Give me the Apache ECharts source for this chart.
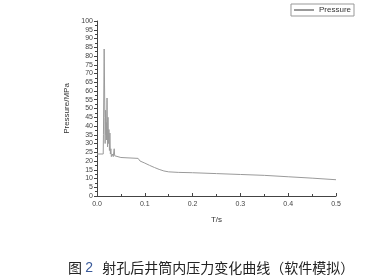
<!DOCTYPE html>
<html><head><meta charset="utf-8">
<script src="https://cdn.jsdelivr.net/npm/echarts@6/dist/echarts.min.js"></script>
<style>html,body{margin:0;padding:0;background:#fff}#c{width:388px;height:280px}</style>
</head><body><div id="c"></div>
<script>
var seriesName = 'Pressure';
var times = [0,0.013,0.0135,0.015,0.0165,0.017,0.018,0.019,0.0195,0.02,0.021,0.022,0.023,0.024,0.025,0.026,0.027,0.028,0.029,0.03,0.032,0.034,0.036,0.037,0.04,0.05,0.086,0.09,0.1,0.11,0.12,0.13,0.14,0.15,0.17,0.2,0.25,0.3,0.35,0.4,0.45,0.5];
var pressure = [24,24,35,84,45,30,49,35,42,32,56,28,45,30,38,26,36,24,27,22.5,24,22.5,27,23,22.3,22,21.5,20,18.8,17.5,16.3,15.2,14.3,13.8,13.5,13.3,12.8,12.3,11.8,11,10.2,9.3];
var xTicks = ['0.0','0.1','0.2','0.3','0.4','0.5'];
var caption = '射孔后井筒内压力变化曲线（软件模拟）';
var data = times.map(function(t,i){return [t,pressure[i]];});
var chart = echarts.init(document.getElementById('c'));
chart.setOption({
  animation:false,
  grid:{left:97,right:52,top:21,bottom:84},
  legend:{show:true,right:34,top:4,itemWidth:20,itemHeight:2,itemGap:2,padding:[2,3,2,3],borderColor:'#999',borderWidth:1,borderRadius:0,
    icon:'rect',textStyle:{fontSize:8,color:'#333',fontFamily:'Liberation Sans'},data:[seriesName]},
  xAxis:{type:'value',min:0,max:0.5,interval:0.1,name:'T/s',nameLocation:'middle',nameGap:20,
    nameTextStyle:{fontSize:8,color:'#333',fontFamily:'Liberation Sans'},
    axisLine:{lineStyle:{color:'#444',width:1}},
    axisTick:{inside:true,length:3,lineStyle:{color:'#444'}},
    minorTick:{show:true,splitNumber:2,length:2,lineStyle:{color:'#444'}},
    splitLine:{show:false},
    axisLabel:{fontSize:7,color:'#444',fontFamily:'Liberation Sans',margin:5,formatter:function(v){return xTicks[Math.round(v*10)];}}},
  yAxis:{type:'value',min:0,max:100,interval:5,name:'Pressure/MPa',nameLocation:'middle',nameGap:23,
    nameTextStyle:{fontSize:8,color:'#333',fontFamily:'Liberation Sans'},
    axisLine:{show:true,lineStyle:{color:'#444',width:1}},
    axisTick:{show:true,length:3,lineStyle:{color:'#444'}},
    minorTick:{show:true,splitNumber:2,length:2,lineStyle:{color:'#444'}},
    splitLine:{show:false},
    axisLabel:{fontSize:7,color:'#444',fontFamily:'Liberation Sans',margin:4}},
  series:[{name:seriesName,type:'line',data:data,showSymbol:false,symbol:'none',
    lineStyle:{color:'#9a9a9a',width:1},itemStyle:{color:'#9a9a9a'}}],
  title:{text:'{a|图 }{b|2}{a|   '+caption+'}',left:63,top:256,
    textStyle:{fontWeight:'normal',rich:{a:{fontSize:14,fontWeight:'normal',color:'#222',fontFamily:'Noto Sans CJK SC'},b:{fontSize:14,fontWeight:'normal',color:'#3a5a9a',fontFamily:'Liberation Sans'}}}}
});
</script></body></html>
